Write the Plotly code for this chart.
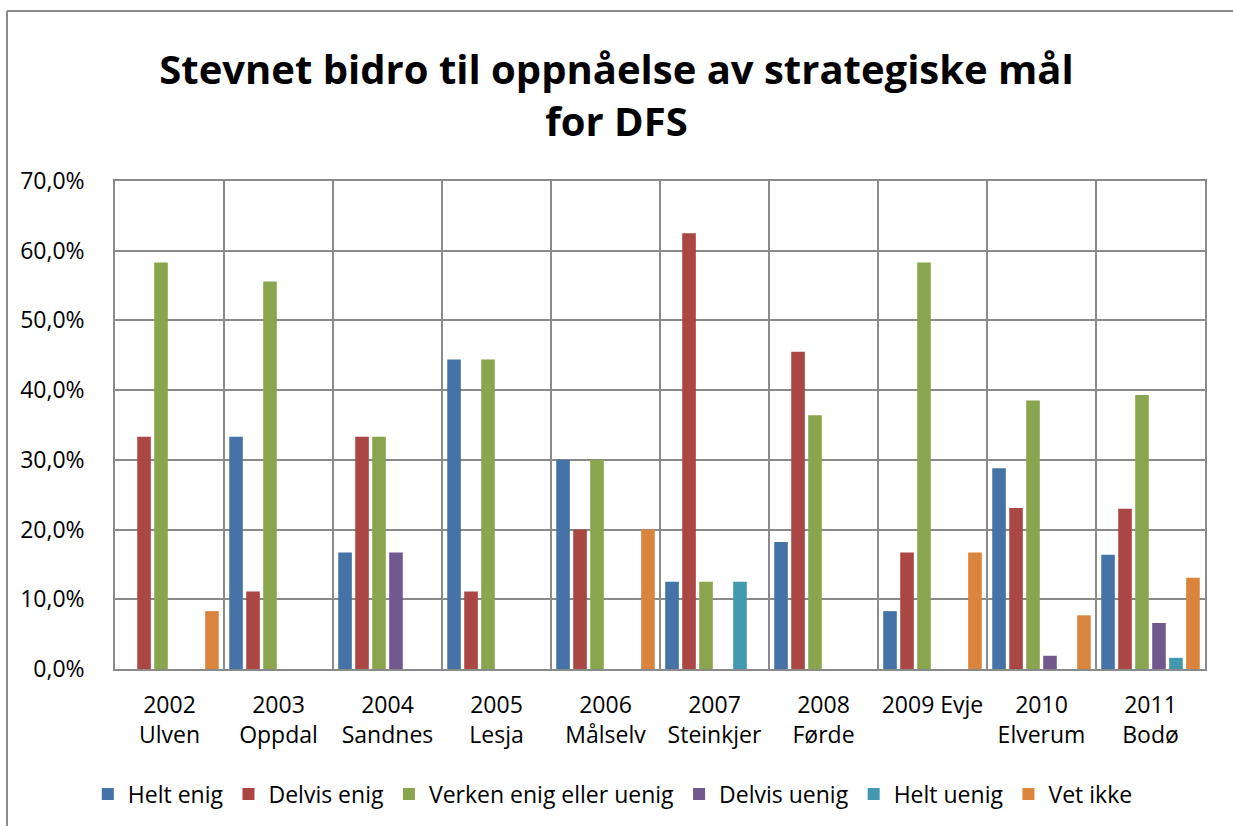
import plotly.graph_objects as go

categories = ["2002<br>Ulven", "2003<br>Oppdal", "2004<br>Sandnes", "2005<br>Lesja",
              "2006<br>Målselv", "2007<br>Steinkjer", "2008<br>Førde", "2009 Evje",
              "2010<br>Elverum", "2011<br>Bodø"]

helt_enig = [0, 33.3, 16.7, 44.4, 30.0, 12.5, 18.2, 8.3, 28.8, 16.4]
delvis_enig = [33.3, 11.1, 33.3, 11.1, 20.0, 62.5, 45.5, 16.7, 23.1, 23.0]
verken = [58.3, 55.6, 33.3, 44.4, 30.0, 12.5, 36.4, 58.3, 38.5, 39.3]
delvis_uenig = [0, 0, 16.7, 0, 0, 0, 0, 0, 1.9, 6.6]
helt_uenig = [0, 0, 0, 0, 0, 12.5, 0, 0, 0, 1.6]
vet_ikke = [8.3, 0, 0, 0, 20.0, 0, 0, 16.7, 7.7, 13.1]

series = [
    ("Helt enig", helt_enig, "#4572A7"),
    ("Delvis enig", delvis_enig, "#AA4643"),
    ("Verken enig eller uenig", verken, "#89A54E"),
    ("Delvis uenig", delvis_uenig, "#71588F"),
    ("Helt uenig", helt_uenig, "#4198AF"),
    ("Vet ikke", vet_ikke, "#DB843D"),
]

font_family = "'Open Sans', Lato, sans-serif"

fig = go.Figure()
for name, vals, color in series:
    fig.add_trace(go.Bar(name=name, x=categories, y=vals,
                         marker=dict(color=color, line=dict(width=0))))

grid_color = "#8a8a8a"
W, H = 1233, 826
L, R, T, B = 115, 28, 181, 157
pw, ph = W - L - R, H - T - B


def px_x(x):
    return (x - L) / pw


def px_y(y):
    return (H - B - y) / ph


fig.update_layout(
    width=W, height=H,
    barmode="group", bargap=0.065, bargroupgap=0.2,
    paper_bgcolor="white", plot_bgcolor="white",
    separators=",.",
    margin=dict(l=L, r=R, t=T, b=B),
    font=dict(family=font_family, size=23, color="black"),
    title=dict(text="<b>Stevnet bidro til oppnåelse av strategiske mål<br>for DFS</b>",
               x=0.5, xref="container", xanchor="center",
               y=1 - 84 / H, yref="container", yanchor="middle",
               font=dict(family=font_family, size=40, color="black")),
    legend=dict(orientation="h", xref="container", yref="container",
                x=0.497, xanchor="center", y=1 - 794 / H, yanchor="middle",
                font=dict(size=23), traceorder="normal"),
    xaxis=dict(showgrid=True, gridcolor=grid_color, gridwidth=1.5,
               showline=True, linecolor=grid_color, linewidth=1.5, mirror=True,
               tickson="boundaries", ticks="", tickangle=0,
               ticklabelstandoff=15, tickfont=dict(size=23)),
    yaxis=dict(range=[0, 70], dtick=10, tickformat=".1f", ticksuffix="%",
               showgrid=True, gridcolor=grid_color, gridwidth=1.5,
               showline=True, linecolor=grid_color, linewidth=1.5, mirror=True,
               ticks="", ticklabelstandoff=24, zeroline=False,
               tickfont=dict(size=23)),
    shapes=[
        dict(type="line", xref="paper", yref="paper",
             x0=px_x(7), x1=px_x(7), y0=px_y(11), y1=px_y(H + 5),
             line=dict(color="#8c8c8c", width=2)),
        dict(type="line", xref="paper", yref="paper",
             x0=px_x(7), x1=px_x(W + 5), y0=px_y(11), y1=px_y(11),
             line=dict(color="#8c8c8c", width=2)),
    ],
)

fig.write_html("out.html", config={"displayModeBar": False},
               post_script="document.body.style.margin='0px';")
